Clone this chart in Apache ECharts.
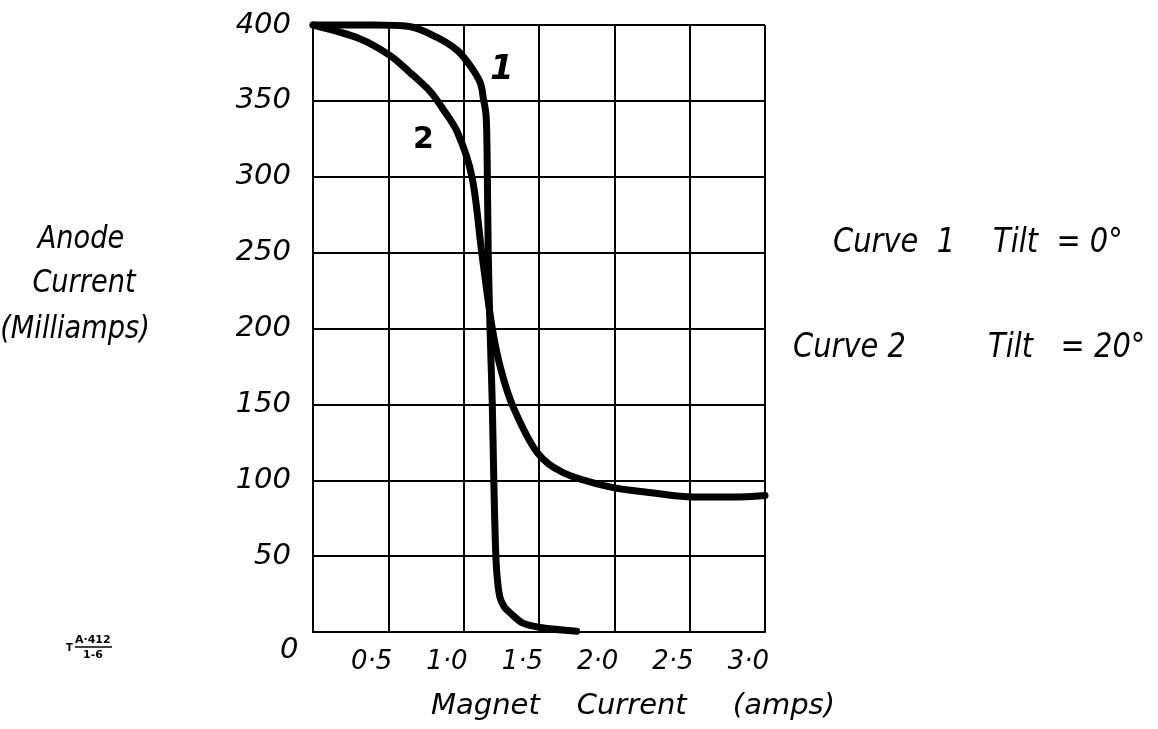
<!DOCTYPE html>
<html>
<head>
<meta charset="utf-8">
<script src="https://cdn.jsdelivr.net/npm/echarts@6/dist/echarts.min.js"></script>
<style>
html,body{margin:0;padding:0;background:#fff;}
#c{width:1158px;height:729px;}
</style>
</head>
<body>
<div id="c"></div>
<script>
// Curve 1: Tilt = 0°
const curve1X = [0, 0.4, 0.64, 0.82, 0.955, 1.04, 1.11, 1.13, 1.148, 1.155, 1.163, 1.175, 1.19, 1.2, 1.21, 1.22, 1.24, 1.27, 1.31, 1.39, 1.51, 1.75];
const curve1Y = [400, 400, 399, 392, 383.5, 373.6, 362, 352, 341, 319, 250, 200, 150, 100, 60, 39, 23, 16.5, 12.5, 6, 3, 0.5];
// Curve 2: Tilt = 20°
const curve2X = [0, 0.31, 0.51, 0.64, 0.78, 0.86, 0.96, 1.055, 1.12, 1.19, 1.25, 1.33, 1.49, 1.66, 1.97, 2.26, 2.52, 2.79, 3.0];
const curve2Y = [400, 391, 380, 369, 356, 345, 329, 300, 250, 200, 172, 148, 118, 105, 95.6, 91.6, 89, 89, 90];
const xTicks = ['', '0·5', '1·0', '1·5', '2·0', '2·5', '3·0'];
const yTicks = [0, 50, 100, 150, 200, 250, 300, 350, 400];

const FONT = '"DejaVu Sans", sans-serif';
const pair = (xs, ys) => xs.map((x, i) => [x, ys[i]]);
const txt = (x, y, text, size, align) => ({
  type: 'text', x: x, y: y, scaleX: 0.85,
  style: { text: text, fill: '#000', font: 'italic ' + size + 'px ' + FONT, align: align || 'left', verticalAlign: 'middle' }
});

const chart = echarts.init(document.getElementById('c'));
chart.setOption({
  backgroundColor: '#fff',
  animation: false,
  grid: { left: 313, right: 393, top: 25, bottom: 97 },
  xAxis: {
    type: 'value', min: 0, max: 3, interval: 0.5,
    axisLine: { show: true, lineStyle: { color: '#000', width: 2 } },
    axisTick: { show: false },
    splitLine: { show: true, lineStyle: { color: '#000', width: 2 } },
    axisLabel: {
      formatter: v => xTicks[Math.round(v / 0.5)] || '',
      color: '#000', fontFamily: FONT, fontStyle: 'italic', fontSize: 26,
      align: 'right', margin: 17, padding: [0, -4, 0, 0]
    },
    name: 'Magnet    Current     (amps)',
    nameLocation: 'middle', nameGap: 60,
    nameTextStyle: { color: '#000', fontFamily: FONT, fontStyle: 'italic', fontSize: 29, padding: [0, 0, 0, 188] }
  },
  yAxis: {
    type: 'value', min: 0, max: 400, interval: 50,
    axisLine: { show: true, lineStyle: { color: '#000', width: 2 } },
    axisTick: { show: false },
    splitLine: { show: true, lineStyle: { color: '#000', width: 2 } },
    axisLabel: {
      formatter: v => (v === 0 ? '' : String(v)),
      color: '#000', fontFamily: FONT, fontStyle: 'italic', fontSize: 29, margin: 22
    }
  },
  graphic: [
    { type: 'text', x: 280, y: 650, style: { text: '0', fill: '#000', font: 'italic 29px ' + FONT, verticalAlign: 'middle' } },
    txt(81, 240, 'Anode', 32, 'center'),
    txt(84, 284, 'Current', 32, 'center'),
    txt(75, 330, '(Milliamps)', 32, 'center'),
    txt(833, 243, 'Curve  1', 34),
    txt(993, 243, 'Tilt  = 0°', 34),
    txt(793, 348, 'Curve 2', 34),
    txt(988, 348, 'Tilt   = 20°', 34),
    { type: 'text', x: 490, y: 70, style: { text: '1', fill: '#000', font: 'italic bold 34px ' + FONT, verticalAlign: 'middle' } },
    { type: 'text', x: 413, y: 140, style: { text: '2', fill: '#000', font: 'bold 30px ' + FONT, verticalAlign: 'middle' } },
    { type: 'text', x: 66, y: 648, style: { text: 'T', fill: '#000', font: 'bold 10px ' + FONT, verticalAlign: 'middle' } },
    { type: 'text', x: 75, y: 640, style: { text: 'A·412', fill: '#000', font: 'bold 11px ' + FONT, verticalAlign: 'middle' } },
    { type: 'line', shape: { x1: 75, y1: 647, x2: 112, y2: 647 }, style: { stroke: '#000', lineWidth: 1.5 } },
    { type: 'text', x: 83, y: 655, style: { text: '1-6', fill: '#000', font: 'bold 11px ' + FONT, verticalAlign: 'middle' } }
  ],
  series: [
    {
      name: 'Curve 1', type: 'line', data: pair(curve1X, curve1Y),
      showSymbol: false, smooth: 0.33, clip: false,
      lineStyle: { color: '#000', width: 7, cap: 'round', join: 'round' }
    },
    {
      name: 'Curve 2', type: 'line', data: pair(curve2X, curve2Y),
      showSymbol: false, smooth: 0.33, clip: false,
      lineStyle: { color: '#000', width: 7, cap: 'round', join: 'round' }
    }
  ]
});
</script>
</body>
</html>
